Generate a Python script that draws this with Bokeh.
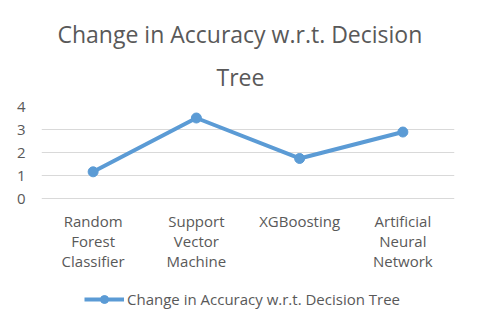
from bokeh.plotting import figure
from bokeh.models import Range1d, FixedTicker, Legend, LegendItem, Title
from bokeh.core.properties import value
from bokeh.embed import file_html
from bokeh.resources import INLINE

categories = ["Random\nForest\nClassifier", "Support\nVector\nMachine", "XGBoosting", "Artificial\nNeural\nNetwork"]
values = [1.16, 3.5, 1.74, 2.89]
y_ticks = [0, 1, 2, 3, 4]
series_name = "Change in Accuracy w.r.t. Decision Tree"
title_line1 = "Change in Accuracy w.r.t. Decision"
title_line2 = "Tree"

FONT = "Open Sans"
GRAY = "#595959"
BLUE = "#5b9bd5"

# frame runs from the top gridline down to the canvas bottom so the legend fits inside it;
# the value axis spans 0..4 over 92px, the remaining 132px below 0 hold labels and legend
Y_MAX = 4
Y_MIN = -Y_MAX * 132 / 92

p = figure(width=480, height=330, x_range=categories, y_range=Range1d(Y_MIN, Y_MAX),
           output_backend="svg", toolbar_location=None, x_axis_location=None,
           min_border_left=41, min_border_right=26, min_border_top=106, min_border_bottom=0)

def style_title(t, standoff, offset):
    t.text_font = FONT
    t.text_font_size = "23px"
    t.text_font_style = "normal"
    t.text_color = GRAY
    t.align = "left"
    t.offset = offset
    t.standoff = standoff

p.title.text = title_line1
style_title(p.title, -9, 16)
t2 = Title(text=title_line2)
style_title(t2, 27, 175)
p.add_layout(t2, "above")

p.outline_line_color = None
p.xgrid.grid_line_color = None
p.ygrid.grid_line_color = "#d9d9d9"
p.ygrid.grid_line_width = 1
p.yaxis.ticker = FixedTicker(ticks=y_ticks)
p.yaxis.axis_line_color = None
p.yaxis.major_tick_line_color = None
p.yaxis.minor_tick_line_color = None
p.yaxis.major_tick_out = 0
p.yaxis.major_label_standoff = 16
p.yaxis.major_label_text_font = FONT
p.yaxis.major_label_text_font_size = "15px"
p.yaxis.major_label_text_color = GRAY

# category labels under the zero line
p.text(x=categories, y=[0] * len(categories), text=categories, y_offset=12,
       text_align="center", text_baseline="top", text_line_height=1.0,
       text_font=value(FONT), text_font_size=value("15px"), text_color=GRAY)

line = p.line(categories, values, line_color=BLUE, line_width=4)
pts = p.scatter(categories, values, size=10, fill_color=BLUE, line_color=BLUE)

legend = Legend(items=[LegendItem(label=series_name, renderers=[line, pts])],
                location=(43, 21), orientation="horizontal", padding=0, margin=0, spacing=0,
                glyph_width=40, glyph_height=20, label_height=20, label_standoff=3,
                label_text_font=FONT, label_text_font_size="15px", label_text_color=GRAY,
                border_line_color=None, background_fill_alpha=0)
p.add_layout(legend, "center")

open("out.html", "w").write(file_html(p, INLINE))
